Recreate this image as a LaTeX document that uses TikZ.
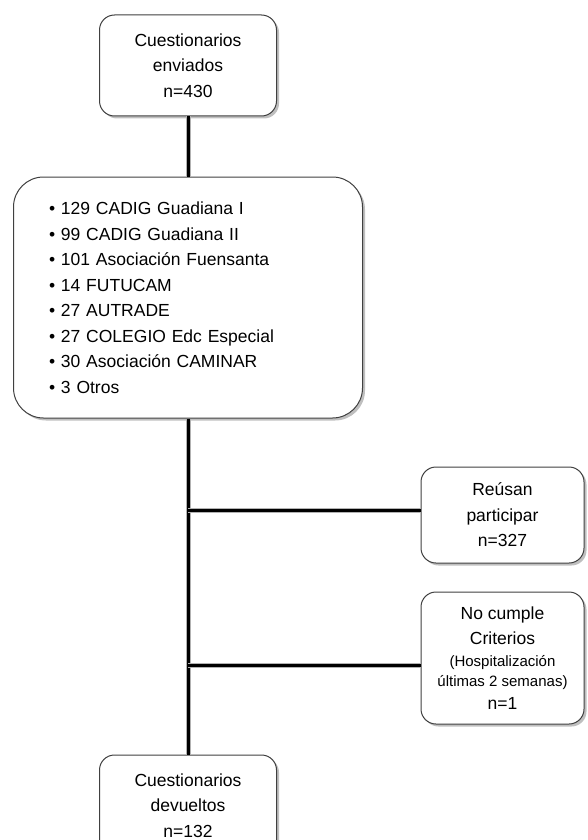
\documentclass[tikz,border=0pt]{standalone}
\usepackage{fontspec}
\setmainfont{Liberation Sans}
\usetikzlibrary{shadows}

\begin{document}
\begin{tikzpicture}[x=1pt, y=-1pt,
    caja/.style={draw=black!75, line width=1pt, fill=white, rounded corners=15pt,
      drop shadow={shadow xshift=2.5pt, shadow yshift=-2.5pt, fill=black!50},
      align=center, inner sep=0pt,
      font={\fontsize{17.5}{25.5}\selectfont}},
    linea/.style={line width=3pt, black,
      preaction={draw=black!30, line width=5pt}}]
        % page frame
        \useasboundingbox (0,0) rectangle (588,840);
        % Sent questionnaires
        \node[caja, minimum width=177pt, minimum height=101pt] (enviados) at (188,65.5)
          {Cuestionarios\\enviados\\n=430};
        % Centres list
        \node[caja, rounded corners=30pt, minimum height=241pt, text width=278pt,
          inner xsep=35.5pt, align=left] (centros) at (188,297.5)
          {• 129 CADIG Guadiana I\\• 99 CADIG Guadiana II\\• 101 Asociación Fuensanta\\
           • 14 FUTUCAM\\• 27 AUTRADE\\• 27 COLEGIO Edc Especial\\
           • 30 Asociación CAMINAR\\• 3 Otros};
        % Refused
        \node[caja, minimum width=163pt, minimum height=96pt] (reusan) at (502.5,515)
          {Reúsan\\participar\\n=327};
        % Excluded
        \node[caja, minimum width=163pt, minimum height=132pt] (nocumple) at (502.5,658)
          {No cumple\\Criterios\\[-3.5pt]
           {\fontsize{15}{20}\selectfont (Hospitalización}\\[-5.5pt]
           {\fontsize{15}{20}\selectfont últimas 2 semanas)}\\[-2.5pt]
           n=1};
        % Returned questionnaires
        \node[caja, minimum width=177pt, minimum height=101pt] (devueltos) at (188,805.5)
          {Cuestionarios\\devueltos\\n=132};
        % Branch points
        \coordinate (b1) at (188,510);
        \coordinate (b2) at (188,665);
        % Connectors
        \draw[linea] (enviados) -- (centros);
        \draw[linea] (centros) -- (devueltos);
        \draw[linea] (b1) -- (b1 -| reusan.west);
        \draw[linea] (b2) -- (b2 -| nocumple.west);
\end{tikzpicture}
\end{document}
